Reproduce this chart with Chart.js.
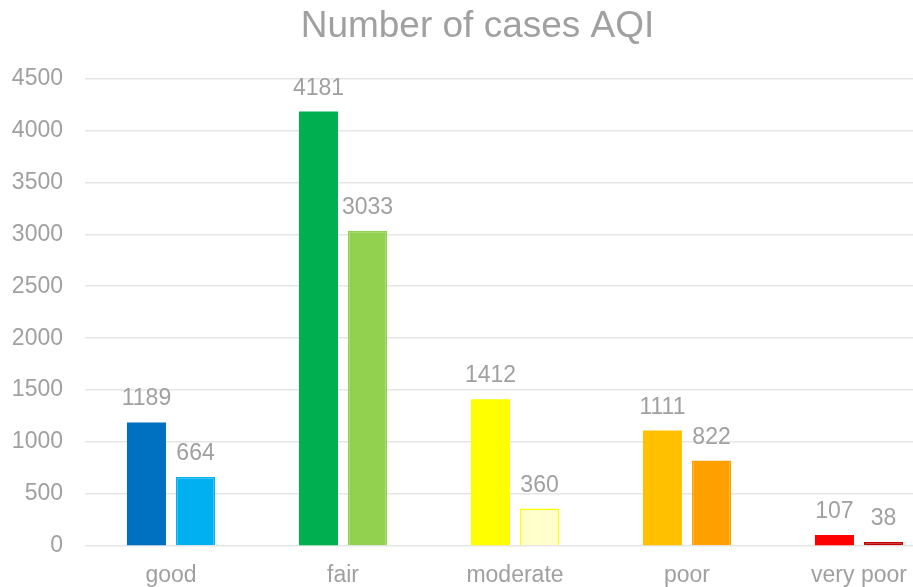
<!DOCTYPE html>
<html>
<head>
<meta charset="utf-8">
<script src="https://cdn.jsdelivr.net/npm/chart.js@4/dist/chart.umd.min.js"></script>
<style>
  html, body { margin: 0; padding: 0; background: #fff; overflow: hidden; }
  #wrap { width: 913px; height: 587px; overflow: hidden; }
</style>
</head>
<body>
<div id="wrap"><canvas id="chart" width="947" height="587"></canvas></div>
<script>
const categories = ["good", "fair", "moderate", "poor", "very poor"];
const seriesA = [1189, 4181, 1412, 1111, 107];
const seriesB = [664, 3033, 360, 822, 38];
const colorsA = ["#0070C0", "#00B050", "#FFFF00", "#FFC000", "#FF0000"];
const colorsB = ["#00B0F0", "#92D050", "#FFFFCC", "#FFA000", "#C00000"];
const bordersB = ["#00B0F0", "#92D050", "#FFFF00", "#FFA000", "#C00000"];

const textGray = "#a0a0a0";
const fontFamily = "'Liberation Sans', Arial, sans-serif";

// draws the value above every bar
const valueLabels = {
  id: "valueLabels",
  afterDatasetsDraw(chart) {
    const ctx = chart.ctx;
    ctx.save();
    ctx.font = "23px " + fontFamily;
    ctx.fillStyle = textGray;
    ctx.textAlign = "center";
    ctx.textBaseline = "alphabetic";
    chart.data.datasets.forEach((ds, i) => {
      chart.getDatasetMeta(i).data.forEach((bar, j) => {
        ctx.fillText(String(ds.data[j]), bar.x, bar.y - 17);
      });
    });
    ctx.restore();
  },
};

new Chart(document.getElementById("chart"), {
  type: "bar",
  data: {
    labels: categories,
    datasets: [
      { data: seriesA, backgroundColor: colorsA, borderWidth: 0 },
      { data: seriesB, backgroundColor: colorsB, borderColor: bordersB, borderWidth: 1.5 },
    ],
  },
  options: {
    responsive: false,
    animation: false,
    categoryPercentage: 0.5705,
    barPercentage: 0.796,
    layout: { padding: { left: 10, right: 2, top: 0, bottom: 0 } },
    plugins: {
      legend: { display: false },
      tooltip: { enabled: false },
      title: {
        display: true,
        text: "Number of cases AQI",
        color: textGray,
        font: { family: fontFamily, size: 37, weight: "normal" },
        padding: { top: 5, bottom: 29 },
      },
    },
    scales: {
      x: {
        grid: { display: false, drawTicks: false },
        border: { display: false },
        afterFit: (axis) => { axis.height = 41; },
        ticks: {
          color: textGray,
          padding: 16,
          font: { family: fontFamily, size: 23 },
        },
      },
      y: {
        min: 0,
        max: 4500,
        grid: { color: "#e6e6e6", lineWidth: 1.5, drawTicks: false },
        border: { display: false },
        afterFit: (axis) => { axis.width = 75; },
        ticks: {
          stepSize: 500,
          color: textGray,
          padding: 22,
          font: { family: fontFamily, size: 23 },
          callback: (v) => String(v),
        },
      },
    },
  },
  plugins: [valueLabels],
});
</script>
</body>
</html>
